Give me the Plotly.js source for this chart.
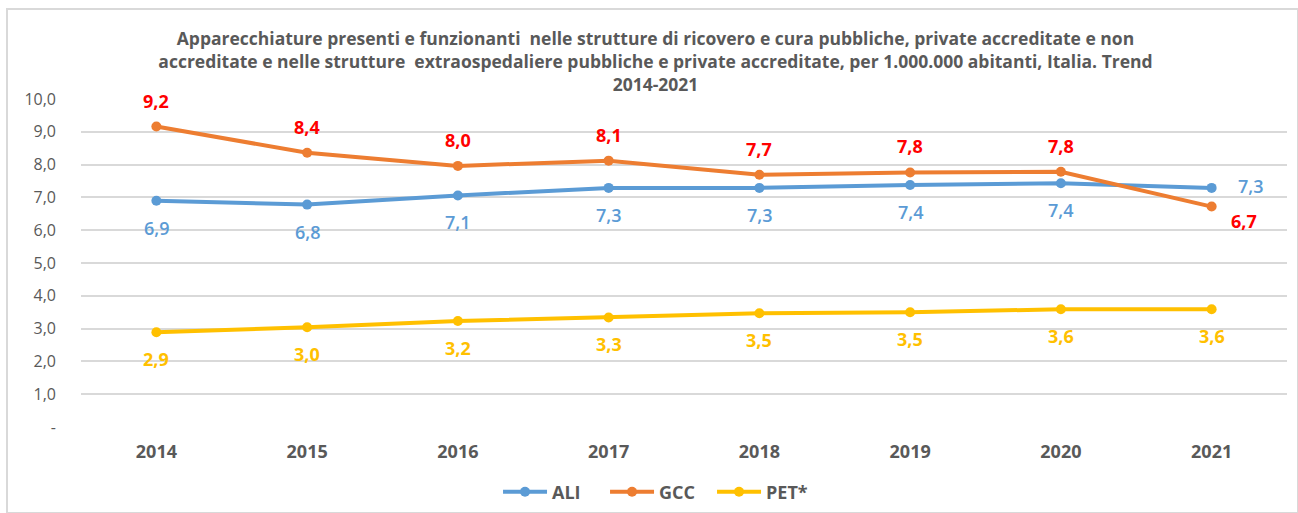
<!DOCTYPE html>
<html>
<head>
<meta charset="utf-8">
<script src="https://cdn.plot.ly/plotly-3.0.1.min.js"></script>
<style>
html,body{margin:0;padding:0;background:#fff;overflow:hidden;}
#wrap{position:relative;width:1298px;height:513px;}
#chart{width:1298px;height:513px;}
#frame{position:absolute;left:6px;top:8px;width:1289px;height:502px;border:2px solid #d9d9d9;pointer-events:none;}
</style>
</head>
<body>
<div id="wrap"><div id="chart"></div><div id="frame"></div></div>
<script>
const years = ['2014','2015','2016','2017','2018','2019','2020','2021'];
const ali = [6.90, 6.78, 7.06, 7.29, 7.29, 7.38, 7.43, 7.29];
const gcc = [9.16, 8.36, 7.96, 8.12, 7.69, 7.76, 7.78, 6.72];
const pet = [2.89, 3.04, 3.23, 3.34, 3.47, 3.50, 3.59, 3.59];
const yTickVals = [0,1,2,3,4,5,6,7,8,9,10];
const yTickText = ['-','1,0','2,0','3,0','4,0','5,0','6,0','7,0','8,0','9,0','10,0'];
const seriesNames = ['ALI','GCC','PET*'];
const titleText = 'Apparecchiature presenti e funzionanti  nelle strutture di ricovero e cura pubbliche, private accreditate e non<br>accreditate e nelle strutture  extraospedaliere pubbliche e private accreditate, per 1.000.000 abitanti, Italia. Trend<br>2014-2021';

const FONT = '"Open Sans", Lato, sans-serif';
const lineCols = ['#5b9bd5','#ed7d31','#ffc000'];
const labelCols = ['#5b9bd5','#ff0000','#ffc000'];
const data = [ali, gcc, pet];

const traces = data.map((vals, i) => ({
  x: years, y: vals, name: seriesNames[i], type: 'scatter', mode: 'lines+markers',
  line: {color: lineCols[i], width: 4},
  marker: {color: lineCols[i], size: 10},
  hoverinfo: 'x+y'
}));

function fmt(v){ return v.toFixed(1).replace('.', ','); }

const annotations = [];
data.forEach((vals, i) => {
  vals.forEach((v, j) => {
    let xs = 0, ys;
    if (i === 1) ys = 26; else ys = -27;
    if (j === years.length - 1 && i === 0) { xs = 39; ys = 2; }
    if (j === years.length - 1 && i === 1) { xs = 32; ys = -14; }
    annotations.push({
      x: j, y: v, xref: 'x', yref: 'y', text: fmt(v), showarrow: false,
      xshift: xs, yshift: ys, xanchor: 'center', yanchor: 'middle',
      font: {family: FONT, size: 18, color: labelCols[i], weight: i === 0 ? 600 : 700}
    });
  });
});

const layout = {
  width: 1298, height: 513,
  margin: {l: 81, r: 11, t: 99, b: 86, autoexpand: false},
  paper_bgcolor: '#ffffff', plot_bgcolor: '#ffffff',
  separators: ',.',
  title: {
    text: titleText, x: 0.505, xanchor: 'center', y: 1 - 45/513, yanchor: 'top', yref: 'container',
    font: {family: FONT, size: 17.5, color: '#595959', weight: 700}
  },
  xaxis: {
    type: 'category', range: [-0.5, years.length - 0.5], autorange: false,
    showgrid: false, zeroline: false, showline: false, ticks: '',
    tickfont: {family: FONT, size: 18, color: '#595959', weight: 700},
    ticklabelstandoff: 12
  },
  yaxis: {
    range: [0, 10], autorange: false, tickvals: yTickVals, ticktext: yTickText,
    showgrid: true, gridcolor: '#d9d9d9', gridwidth: 2, zeroline: false, showline: false,
    tickfont: {family: FONT, size: 16, color: '#595959'}, ticklabelstandoff: 24
  },
  showlegend: true,
  legend: {
    orientation: 'h', x: 0.3458, xanchor: 'left', y: 1 - 492/513, yref: 'container', yanchor: 'middle',
    font: {family: FONT, size: 18, color: '#595959', weight: 700},
    itemwidth: 44, entrywidth: 48, traceorder: 'normal'
  },
  annotations: annotations
};

Plotly.newPlot('chart', traces, layout, {displayModeBar: false, staticPlot: true});
</script>
</body>
</html>
